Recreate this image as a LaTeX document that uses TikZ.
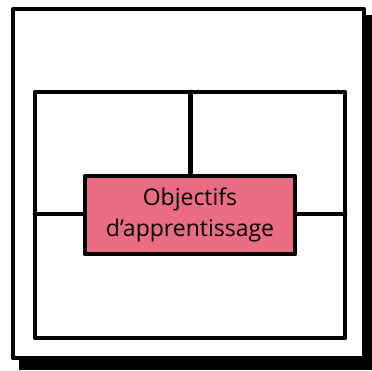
\documentclass[tikz,border=0pt]{standalone}
\usepackage{fontspec}
\setmainfont{Open Sans}
\definecolor{pinkbox}{HTML}{EA6B84}
\begin{document}
\begin{tikzpicture}[x=1pt,y=-1pt,line join=round,line cap=round,
  ink/.style={draw=black,line width=4.8pt},
  shadowbox/.style={fill=black},
  objbox/.style={ink,fill=pinkbox,minimum width=210pt,minimum height=78pt,inner sep=0pt,
    align=center,font=\fontsize{23}{31}\selectfont}]
\useasboundingbox (0,0) rectangle (372,370);
% shadow and outer frame
\fill[shadowbox] (19,15) rectangle (372,370);
\filldraw[fill=white,ink] (13,9) rectangle (364,358);
% inner grid
\coordinate (gtl) at (35,92);
\coordinate (gbr) at (345,338);
\draw[ink] (gtl) rectangle (gbr);
\coordinate (gl) at (35,214);
\coordinate (gr) at (345,214);
\coordinate (gt) at (190.5,92);
% central box
\node[objbox] (obj) at (190,215) {Objectifs\\d’apprentissage};
\draw[ink] (gt) -- (gt |- obj.north);
\draw[ink] (gl) -- (gl -| obj.west);
\draw[ink] (obj.east |- gr) -- (gr);
\end{tikzpicture}
\end{document}
